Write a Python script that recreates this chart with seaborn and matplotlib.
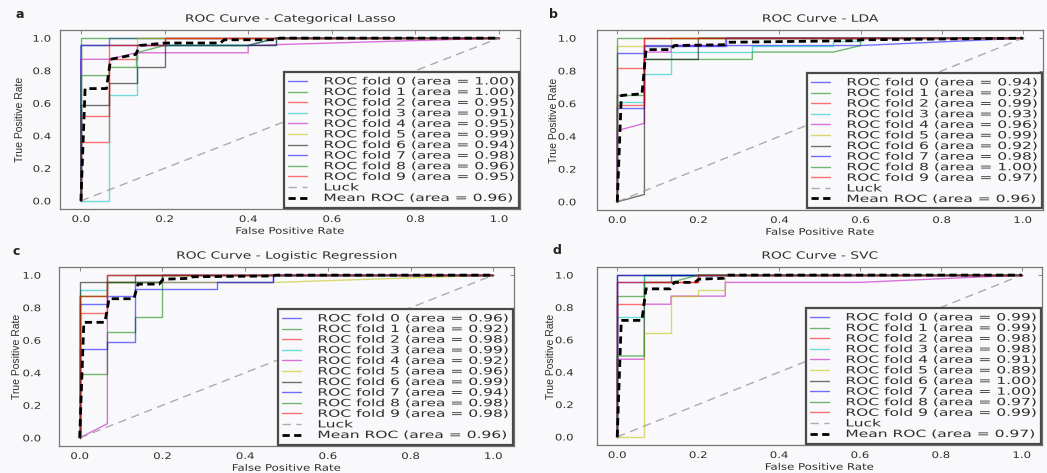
import matplotlib
matplotlib.use("Agg")
import matplotlib.pyplot as plt
import seaborn as sns
from matplotlib.patheffects import AbstractPathEffect
from matplotlib.transforms import Affine2D, Bbox
from matplotlib.offsetbox import TextArea

# ---------------- data ----------------
PANEL_LETTERS = ["a", "b", "c", "d"]
TITLES = ["ROC Curve - Categorical Lasso", "ROC Curve - LDA",
          "ROC Curve - Logistic Regression", "ROC Curve - SVC"]
FOLD_COLORS = ["b", "g", "r", "c", "m", "y", "k", "b", "g", "r"]
TICKS = [0.0, 0.2, 0.4, 0.6, 0.8, 1.0]
LUCK_X = [0, 1]
LUCK_Y = [0, 1]

# Categorical Lasso
LASSO_AUC = [1.00, 1.00, 0.95, 0.91, 0.95, 0.99, 0.94, 0.98, 0.96, 0.95]
LASSO_FPR = [
    [0, 0, 0.067, 0.067, 1],
    [0, 0, 1],
    [0, 0, 0.067, 0.067, 0.133, 0.133, 0.2, 0.2, 1],
    [0, 0.067, 0.067, 0.133, 0.133, 0.467, 0.467, 1],
    [0, 0, 0.067, 0.133, 0.4, 0.4, 1],
    [0, 0, 0.133, 0.133, 1],
    [0, 0, 0.067, 0.067, 0.133, 0.133, 0.2, 0.2, 0.467, 0.467, 1],
    [0, 0, 0.4, 0.467, 1],
    [0, 0, 0.067, 0.067, 0.133, 0.133, 0.2, 0.4, 0.467, 1],
    [0, 0, 0.067, 0.067, 0.2, 0.2, 1],
]
LASSO_TPR = [
    [0, 0.955, 0.955, 1, 1],
    [0, 1, 1],
    [0, 0.36, 0.36, 0.87, 0.87, 0.955, 0.955, 1, 1],
    [0, 0, 0.65, 0.65, 0.955, 0.955, 1, 1],
    [0, 0.87, 0.87, 0.91, 0.91, 0.955, 1],
    [0, 0.955, 0.955, 1, 1],
    [0, 0.59, 0.59, 0.725, 0.725, 0.82, 0.82, 0.955, 0.955, 1, 1],
    [0, 0.955, 0.955, 1, 1],
    [0, 0.77, 0.77, 0.82, 0.82, 0.91, 0.955, 0.955, 1, 1],
    [0, 0.52, 0.52, 0.955, 0.955, 1, 1],
]
LASSO_MEAN_FPR = [0, 0.01, 0.061, 0.071, 0.131, 0.141, 0.202, 0.333, 0.343, 0.465, 0.475, 1]
LASSO_MEAN_TPR = [0, 0.69, 0.69, 0.87, 0.90, 0.955, 0.97, 0.97, 0.99, 0.99, 1, 1]
LASSO_MEAN_AUC = 0.96

# LDA
LDA_AUC = [0.94, 0.92, 0.99, 0.93, 0.96, 0.99, 0.92, 0.98, 1.00, 0.97]
LDA_FPR = [
    [0, 0, 0.067, 0.067, 0.6, 1],
    [0, 0, 0.067, 0.067, 0.333, 0.333, 0.533, 0.6, 0.6, 1],
    [0, 0, 0.067, 0.067, 1],
    [0, 0, 0.067, 0.067, 0.133, 0.133, 0.333, 0.333, 0.533, 0.533, 0.6, 0.6, 1],
    [0, 0, 0.067, 0.067, 0.133, 0.133, 0.267, 0.267, 1],
    [0, 0, 0.133, 0.133, 1],
    [0, 0.067, 0.067, 0.2, 0.2, 1],
    [0, 0, 0.067, 0.067, 0.267, 0.267, 1],
    [0, 0, 1],
    [0, 0, 0.067, 0.067, 1],
]
LDA_TPR = [
    [0, 0.57, 0.57, 0.955, 0.955, 1],
    [0, 0.65, 0.65, 0.87, 0.87, 0.915, 0.915, 0.955, 1, 1],
    [0, 0.82, 0.82, 1, 1],
    [0, 0.61, 0.61, 0.78, 0.78, 0.915, 0.915, 0.955, 0.955, 0.98, 0.98, 1, 1],
    [0, 0.435, 0.48, 0.915, 0.915, 0.955, 0.955, 1, 1],
    [0, 0.955, 0.955, 1, 1],
    [0, 0.045, 0.87, 0.87, 1, 1],
    [0, 0.91, 0.91, 0.955, 0.955, 1, 1],
    [0, 1, 1],
    [0, 0.59, 0.59, 1, 1],
]
LDA_MEAN_FPR = [0, 0.01, 0.061, 0.071, 0.131, 0.141, 0.263, 0.273, 0.59, 0.6, 1]
LDA_MEAN_TPR = [0, 0.65, 0.66, 0.93, 0.93, 0.955, 0.96, 0.975, 0.985, 0.99, 1]
LDA_MEAN_AUC = 0.96

# Logistic Regression
LOGREG_AUC = [0.96, 0.92, 0.98, 0.99, 0.92, 0.96, 0.99, 0.94, 0.98, 0.98]
LOGREG_FPR = [
    [0, 0, 0.067, 0.067, 0.133, 0.133, 0.467, 0.467, 1],
    [0, 0, 0.067, 0.067, 0.133, 0.133, 0.2, 0.2, 1],
    [0, 0, 0.067, 0.067, 1],
    [0, 0, 0.067, 0.067, 1],
    [0, 0.067, 0.067, 0.2, 0.2, 1],
    [0, 0, 0.067, 0.067, 0.467, 1],
    [0, 0, 0.133, 0.133, 1],
    [0, 0, 0.067, 0.067, 0.133, 0.133, 0.333, 0.333, 0.467, 0.467, 1],
    [0, 0, 0.067, 0.067, 0.2, 0.2, 1],
    [0, 0, 0.067, 0.067, 1],
]
LOGREG_TPR = [
    [0, 0.825, 0.825, 0.87, 0.87, 0.955, 0.955, 1, 1],
    [0, 0.39, 0.39, 0.65, 0.65, 0.74, 0.74, 1, 1],
    [0, 0.77, 0.77, 1, 1],
    [0, 0.91, 0.91, 1, 1],
    [0, 0.087, 0.955, 0.955, 1, 1],
    [0, 0.87, 0.87, 0.955, 0.955, 1],
    [0, 0.955, 0.955, 1, 1],
    [0, 0.545, 0.545, 0.59, 0.59, 0.915, 0.915, 0.955, 0.955, 1, 1],
    [0, 0.87, 0.87, 0.955, 0.955, 1, 1],
    [0, 0.87, 0.87, 1, 1],
]
LOGREG_MEAN_FPR = [0, 0.01, 0.061, 0.071, 0.131, 0.141, 0.192, 0.202, 0.263, 0.273, 0.465, 0.475, 1]
LOGREG_MEAN_TPR = [0, 0.71, 0.71, 0.855, 0.855, 0.945, 0.945, 0.975, 0.98, 0.99, 0.995, 1, 1]
LOGREG_MEAN_AUC = 0.96

# SVC
SVC_AUC = [0.99, 0.99, 0.98, 0.98, 0.91, 0.89, 1.00, 1.00, 0.97, 0.99]
SVC_FPR = [
    [0, 0, 0.133, 0.133, 1],
    [0, 0, 0.067, 0.067, 1],
    [0, 0, 0.067, 0.067, 0.2, 0.2, 1],
    [0, 0, 0.067, 0.067, 1],
    [0, 0, 0.067, 0.067, 0.133, 0.133, 0.267, 0.267, 0.6, 1],
    [0, 0.067, 0.067, 0.133, 0.133, 0.2, 0.2, 0.267, 0.267, 1],
    [0, 0, 1],
    [0, 0, 1],
    [0, 0, 0.067, 0.067, 0.133, 0.2, 1],
    [0, 0, 0.2, 0.2, 1],
]
SVC_TPR = [
    [0, 0.955, 0.955, 1, 1],
    [0, 0.87, 0.87, 1, 1],
    [0, 0.82, 0.82, 0.955, 0.955, 1, 1],
    [0, 0.74, 0.74, 1, 1],
    [0, 0.48, 0.48, 0.82, 0.82, 0.87, 0.87, 0.955, 0.955, 1],
    [0, 0, 0.64, 0.64, 0.87, 0.87, 0.91, 0.91, 1, 1],
    [0, 1, 1],
    [0, 1, 1],
    [0, 0.5, 0.5, 0.955, 0.955, 1, 1],
    [0, 0.955, 0.955, 1, 1],
]
SVC_MEAN_FPR = [0, 0.01, 0.061, 0.071, 0.131, 0.141, 0.192, 0.202, 0.263, 0.273, 1]
SVC_MEAN_TPR = [0, 0.72, 0.72, 0.915, 0.915, 0.955, 0.955, 0.975, 0.98, 1, 1]
SVC_MEAN_AUC = 0.97

PANELS = [
    (LASSO_FPR, LASSO_TPR, LASSO_AUC, LASSO_MEAN_FPR, LASSO_MEAN_TPR, LASSO_MEAN_AUC),
    (LDA_FPR, LDA_TPR, LDA_AUC, LDA_MEAN_FPR, LDA_MEAN_TPR, LDA_MEAN_AUC),
    (LOGREG_FPR, LOGREG_TPR, LOGREG_AUC, LOGREG_MEAN_FPR, LOGREG_MEAN_TPR, LOGREG_MEAN_AUC),
    (SVC_FPR, SVC_TPR, SVC_AUC, SVC_MEAN_FPR, SVC_MEAN_TPR, SVC_MEAN_AUC),
]


# ------------- horizontally widened glyphs (reference text is wide) -------------
class HStretch(AbstractPathEffect):
    def __init__(self, sx, anchor="left"):
        super().__init__()
        self._sx = sx
        self._anchor = anchor

    def draw_path(self, renderer, gc, tpath, affine, rgbFace=None):
        ext = tpath.get_extents()
        if self._anchor == "center":
            px = 0.5 * (ext.x0 + ext.x1)
        elif self._anchor == "right":
            px = ext.x1
        else:
            px = 0.0
        x0, y0 = affine.transform((px, 0.0))
        t = affine + Affine2D().translate(-x0, -y0).scale(self._sx, 1.0).translate(x0, y0)
        renderer.draw_path(gc, tpath, t, rgbFace)


def widen_textarea(ta, sx):
    orig = ta.get_bbox

    def get_bbox(renderer):
        bb = orig(renderer)
        return Bbox.from_bounds(bb.x0, bb.y0, bb.width * sx, bb.height)

    ta.get_bbox = get_bbox


# ---------------- style ----------------
sns.set_style("white")
BG = "#f9f9fb"
TXT = "#2e2e2e"
plt.rcParams["font.family"] = ["DejaVu Sans"]
plt.rcParams["axes.facecolor"] = BG
plt.rcParams["figure.facecolor"] = BG

W, H = 1047, 473
fig = plt.figure(figsize=(W / 100, H / 100), dpi=100)

# axes boxes in pixels: left, top, right, bottom
BOXES = [(60, 30, 520, 209), (597, 30, 1043, 210),
         (59, 267, 514, 446), (597, 267, 1042, 445)]
YTICK_PAD = [6.5, 15, 13, 17]
YLABEL_PAD = [8, 2, 3, 2]
LETTER_POS = [(20, 15), (553, 15), (16, 251), (557, 250)]
SX_LEG = 1.55
SX_TITLE = 1.38
SX_TICK = 1.3

for i, ax_box in enumerate(BOXES):
    l, t, r, b = ax_box
    ax = fig.add_axes([l / W, 1 - b / H, (r - l) / W, (b - t) / H])
    fpr_list, tpr_list, aucs, mfpr, mtpr, mauc = PANELS[i]
    for k in range(10):
        sns.lineplot(x=fpr_list[k], y=tpr_list[k], sort=False, estimator=None,
                     ax=ax, color=FOLD_COLORS[k], lw=1, alpha=0.55,
                     label="ROC fold %d (area = %0.2f)" % (k, aucs[k]))
    sns.lineplot(x=LUCK_X, y=LUCK_Y, sort=False, estimator=None, ax=ax,
                 color=(0.62, 0.58, 0.6), lw=1, alpha=0.8, label="Luck")
    ax.lines[-1].set_linestyle((0, (6, 4)))
    sns.lineplot(x=mfpr, y=mtpr, sort=False, estimator=None, ax=ax,
                 color="k", lw=2, label="Mean ROC (area = %0.2f)" % mauc)
    ax.lines[-1].set_linestyle((0, (2.6, 1.6)))

    ax.set_xlim(-0.05, 1.05)
    ax.set_ylim(-0.05, 1.05)
    ax.set_xticks(TICKS)
    ax.set_yticks(TICKS)
    ax.set_xticklabels(["%.1f" % v for v in TICKS])
    ax.set_yticklabels(["%.1f" % v for v in TICKS])
    ax.tick_params(axis="both", direction="in", top=True, right=True,
                   length=3, width=0.7, color="#888888", labelsize=6.5,
                   labelcolor=TXT)
    ax.tick_params(axis="x", pad=4.3)
    ax.tick_params(axis="y", pad=YTICK_PAD[i])
    for lab in ax.get_xticklabels():
        lab.set_path_effects([HStretch(SX_TICK, "center")])
    for lab in ax.get_yticklabels():
        lab.set_path_effects([HStretch(SX_TICK, "right")])
    for sp in ax.spines.values():
        sp.set_color("#777777")
        sp.set_linewidth(0.9)
    xl = ax.set_xlabel("False Positive Rate", fontsize=6.5, labelpad=2, color=TXT)
    xl.set_path_effects([HStretch(SX_TICK, "center")])
    ax.set_ylabel("True Positive Rate", fontsize=7.5, labelpad=YLABEL_PAD[i],
                  family=["Liberation Sans Narrow", "Liberation Sans", "DejaVu Sans"],
                  color=TXT)
    ttl = ax.set_title(TITLES[i], fontsize=7.2, pad=6, color=TXT)
    ttl.set_path_effects([HStretch(SX_TITLE, "center")])

    leg = ax.legend(loc="lower right", fontsize=7.2, frameon=True, fancybox=False,
                    edgecolor="#4a4a4a", facecolor=BG, framealpha=1,
                    borderaxespad=0.15, labelspacing=0.06, handlelength=1.9,
                    handletextpad=1.6, borderpad=0.45)
    leg.get_frame().set_linewidth(1.6)
    for txt in leg.get_texts():
        txt.set_color(TXT)
        txt.set_path_effects([HStretch(SX_LEG, "left")])
    for ta in leg.findobj(match=TextArea):
        widen_textarea(ta, SX_LEG)

    lx, ly = LETTER_POS[i]
    fig.text(lx / W, 1 - ly / H, PANEL_LETTERS[i], fontsize=9, fontweight="bold",
             ha="center", va="center", color="#222222")

fig.savefig("out.png", dpi=100, facecolor=BG)
